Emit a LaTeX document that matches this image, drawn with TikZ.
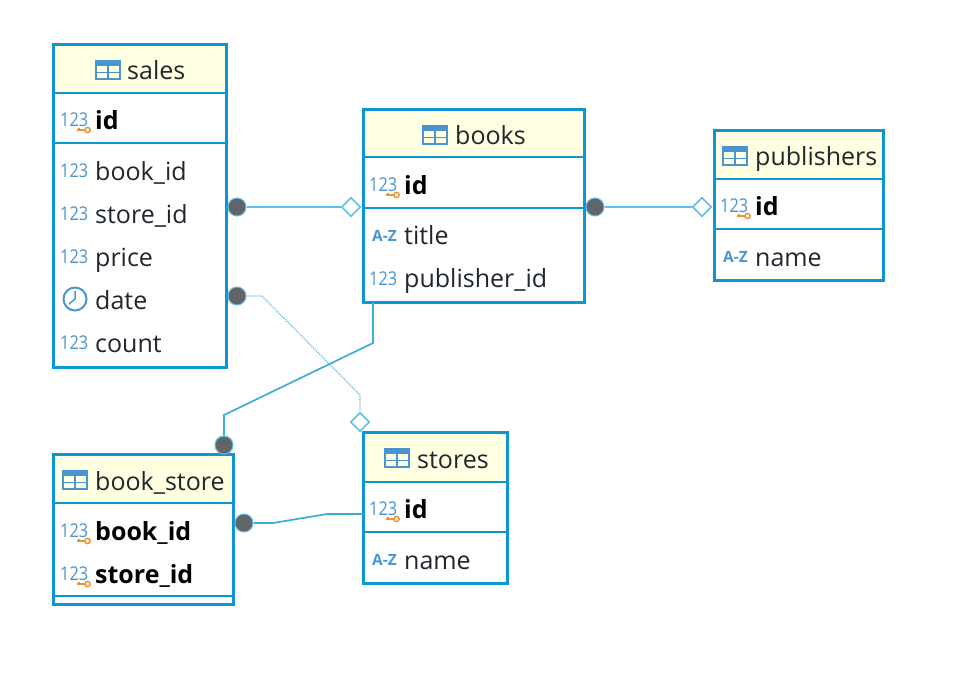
\documentclass[tikz,border=0pt]{standalone}
\usepackage{fontspec}
\setmainfont{Open Sans}
\usetikzlibrary{shapes.geometric}
\definecolor{erblue}{HTML}{0E96D2}
\definecolor{linkblue}{HTML}{5CC0EA}
\definecolor{iconblue}{HTML}{4A95D0}
\definecolor{headfill}{HTML}{FFFFE1}
\definecolor{dotgray}{HTML}{626468}
\definecolor{keyorange}{HTML}{F0922E}
\definecolor{fieldtext}{HTML}{20262E}
\tikzset{
	tablebox/.style={draw=erblue,line width=3pt,anchor=north west,inner sep=0pt,outer sep=0pt},
	headbox/.style={fill=headfill,anchor=north west,inner sep=0pt,outer sep=0pt},
	sepline/.style={erblue,line width=1.5pt},
	fieldname/.style={anchor=base west,inner sep=0pt,xshift=-1pt,text=fieldtext,font=\fontsize{25}{28}\selectfont},
	keyname/.style={fieldname,text=black,font=\fontsize{25}{28}\selectfont\bfseries},
	numtype/.style={anchor=base west,inner sep=0pt,text=iconblue,font=\fontsize{19}{22}\selectfont,xscale=.86},
	texttype/.style={anchor=base west,inner sep=0pt,text=iconblue,font=\fontsize{15.5}{18}\selectfont\bfseries},
	onedot/.style={circle,fill=dotgray,draw=linkblue,line width=1pt,minimum size=18pt,inner sep=0pt},
	zerodia/.style={diamond,fill=white,draw=linkblue,line width=1.6pt,minimum size=19pt,inner sep=0pt},
	thinlink/.style={linkblue,line width=1.5pt},
	thicklink/.style={erblue!80!white,line width=1.7pt},
	tableicon/.pic={
		\draw[iconblue,line width=1.2pt] (0,0) rectangle (24,18);
		\fill[iconblue] (0,0) rectangle (24,5);
		\draw[iconblue,line width=1.2pt] (0,11.5) -- (24,11.5) (12,5) -- (12,18);
	},
	keyicon/.pic={
		\draw[keyorange,line width=1.5pt] (6.5,0) circle (2.6);
		\draw[keyorange,line width=1.5pt] (4,0) -- (-4,0) (-2,0) -- (-2,-2.5);
	},
}
\begin{document}
\begin{tikzpicture}[x=1pt,y=-1pt]
	\useasboundingbox[fill=white] (0,0) rectangle (956,678);

	% sales
	\node[headbox,minimum width=173pt,minimum height=49pt] (salesHead) at (53,44) {};
	\node[tablebox,minimum width=173pt,minimum height=323pt] (sales) at (53,44) {};
	\draw[sepline] (sales.west |- salesHead.south) -- (sales.east |- salesHead.south);
	\coordinate (salesSep) at (53,143);
	\draw[sepline] (salesSep) -- (salesSep -| sales.east);
	\pic at (96,61) {tableicon};
	\node[fieldname] (salesName) at (128,79) {sales};
	\node[numtype] (salesIdType) at (60,126) {123};
	\pic at (81,130) {keyicon};
	\node[keyname] (salesId) at (96,129) {id};
	\node[numtype] (bookIdType) at (60,177) {123};
	\node[fieldname] (bookId) at (96,180) {book\_id};
	\node[numtype] (storeIdType) at (60,220) {123};
	\node[fieldname] (storeId) at (96,223) {store\_id};
	\node[numtype] (priceType) at (60,263) {123};
	\node[fieldname] (price) at (96,266) {price};
	\node[circle,draw=iconblue,line width=2pt,minimum size=23pt,inner sep=0pt] (dateType) at (75,299) {};
	\draw[iconblue,line width=1.5pt] (75,291) -- (dateType.center) -- (69,304);
	\node[fieldname] (date) at (96,309) {date};
	\node[numtype] (countType) at (60,349) {123};
	\node[fieldname] (count) at (96,352) {count};

	% books
	\node[headbox,minimum width=221pt,minimum height=48pt] (booksHead) at (363,109) {};
	\node[tablebox,minimum width=221pt,minimum height=193pt] (books) at (363,109) {};
	\draw[sepline] (books.west |- booksHead.south) -- (books.east |- booksHead.south);
	\coordinate (booksSep) at (363,208);
	\draw[sepline] (booksSep) -- (booksSep -| books.east);
	\pic at (423,126) {tableicon};
	\node[fieldname] (booksName) at (456,144) {books};
	\node[numtype] (booksIdType) at (369,191) {123};
	\pic at (390,195) {keyicon};
	\node[keyname] (booksId) at (405,194) {id};
	\node[texttype] (titleType) at (372,241) {A-Z};
	\node[fieldname] (title) at (405,244) {title};
	\node[numtype] (publisherIdType) at (369,285) {123};
	\node[fieldname] (publisherId) at (405,287) {publisher\_id};

	% publishers
	\node[headbox,minimum width=169pt,minimum height=49pt] (publishersHead) at (714,130) {};
	\node[tablebox,minimum width=169pt,minimum height=150pt] (publishers) at (714,130) {};
	\draw[sepline] (publishers.west |- publishersHead.south) -- (publishers.east |- publishersHead.south);
	\coordinate (publishersSep) at (714,229);
	\draw[sepline] (publishersSep) -- (publishersSep -| publishers.east);
	\pic at (723,147) {tableicon};
	\node[fieldname] (publishersName) at (756,165) {publishers};
	\node[numtype] (publishersIdType) at (720,212) {123};
	\pic at (741,216) {keyicon};
	\node[keyname] (publishersId) at (756,215) {id};
	\node[texttype] (publishersNameType) at (723,262) {A-Z};
	\node[fieldname] (publisherName) at (756,266) {name};

	% stores
	\node[headbox,minimum width=144pt,minimum height=50pt] (storesHead) at (363,432) {};
	\node[tablebox,minimum width=144pt,minimum height=151pt] (stores) at (363,432) {};
	\draw[sepline] (stores.west |- storesHead.south) -- (stores.east |- storesHead.south);
	\coordinate (storesSep) at (363,532);
	\draw[sepline] (storesSep) -- (storesSep -| stores.east);
	\pic at (385,449) {tableicon};
	\node[fieldname] (storesName) at (418,468) {stores};
	\node[numtype] (storesIdType) at (369,515) {123};
	\pic at (390,519) {keyicon};
	\node[keyname] (storesId) at (405,518) {id};
	\node[texttype] (storesNameType) at (372,565) {A-Z};
	\node[fieldname] (storeName) at (405,569) {name};

	% book_store
	\node[headbox,minimum width=180pt,minimum height=49pt] (bookStoreHead) at (53,454) {};
	\node[tablebox,minimum width=180pt,minimum height=150pt] (bookStore) at (53,454) {};
	\draw[sepline] (bookStore.west |- bookStoreHead.south) -- (bookStore.east |- bookStoreHead.south);
	\coordinate (bookStoreSep) at (53,596);
	\draw[sepline] (bookStoreSep) -- (bookStoreSep -| bookStore.east);
	\pic at (63,471) {tableicon};
	\node[fieldname] (bookStoreName) at (96,490) {book\_store};
	\node[numtype] (keyBookType) at (60,537) {123};
	\pic at (81,541) {keyicon};
	\node[keyname] (keyBookId) at (96,540) {book\_id};
	\node[numtype] (keyStoreType) at (60,580) {123};
	\pic at (81,584) {keyicon};
	\node[keyname] (keyStoreId) at (96,583) {store\_id};

	% links
	\node[onedot] (salesDot) at (237,207) {};
	\node[zerodia] (salesDia) at (351,207) {};
	\draw[thinlink] (salesDot) -- (salesDia);

	\node[onedot] (booksDot) at (595,207) {};
	\node[zerodia] (publishersDia) at (702,207) {};
	\draw[thinlink] (booksDot) -- (publishersDia);

	\node[onedot] (dateDot) at (237,296) {};
	\node[zerodia] (storesDia) at (360,422) {};
	\coordinate (dateBendA) at (262,296);
	\coordinate (dateBendB) at (360,395);
	\draw[thinlink,line width=1.2pt,densely dotted] (dateDot) -- (dateBendA) -- (dateBendB) -- (storesDia);

	\node[onedot] (bookStoreDot) at (224,445) {};
	\coordinate (booksOut) at (373,302);
	\coordinate (booksBendA) at (373,343);
	\coordinate (booksBendB) at (224,415);
	\draw[thicklink] (booksOut) -- (booksBendA) -- (booksBendB) -- (bookStoreDot);

	\node[onedot] (keyDot) at (244,523) {};
	\coordinate (keyBendA) at (273,523);
	\coordinate (keyBendB) at (327,514);
	\coordinate (storesIn) at (363,514);
	\draw[thicklink] (keyDot) -- (keyBendA) -- (keyBendB) -- (storesIn);
\end{tikzpicture}
\end{document}
